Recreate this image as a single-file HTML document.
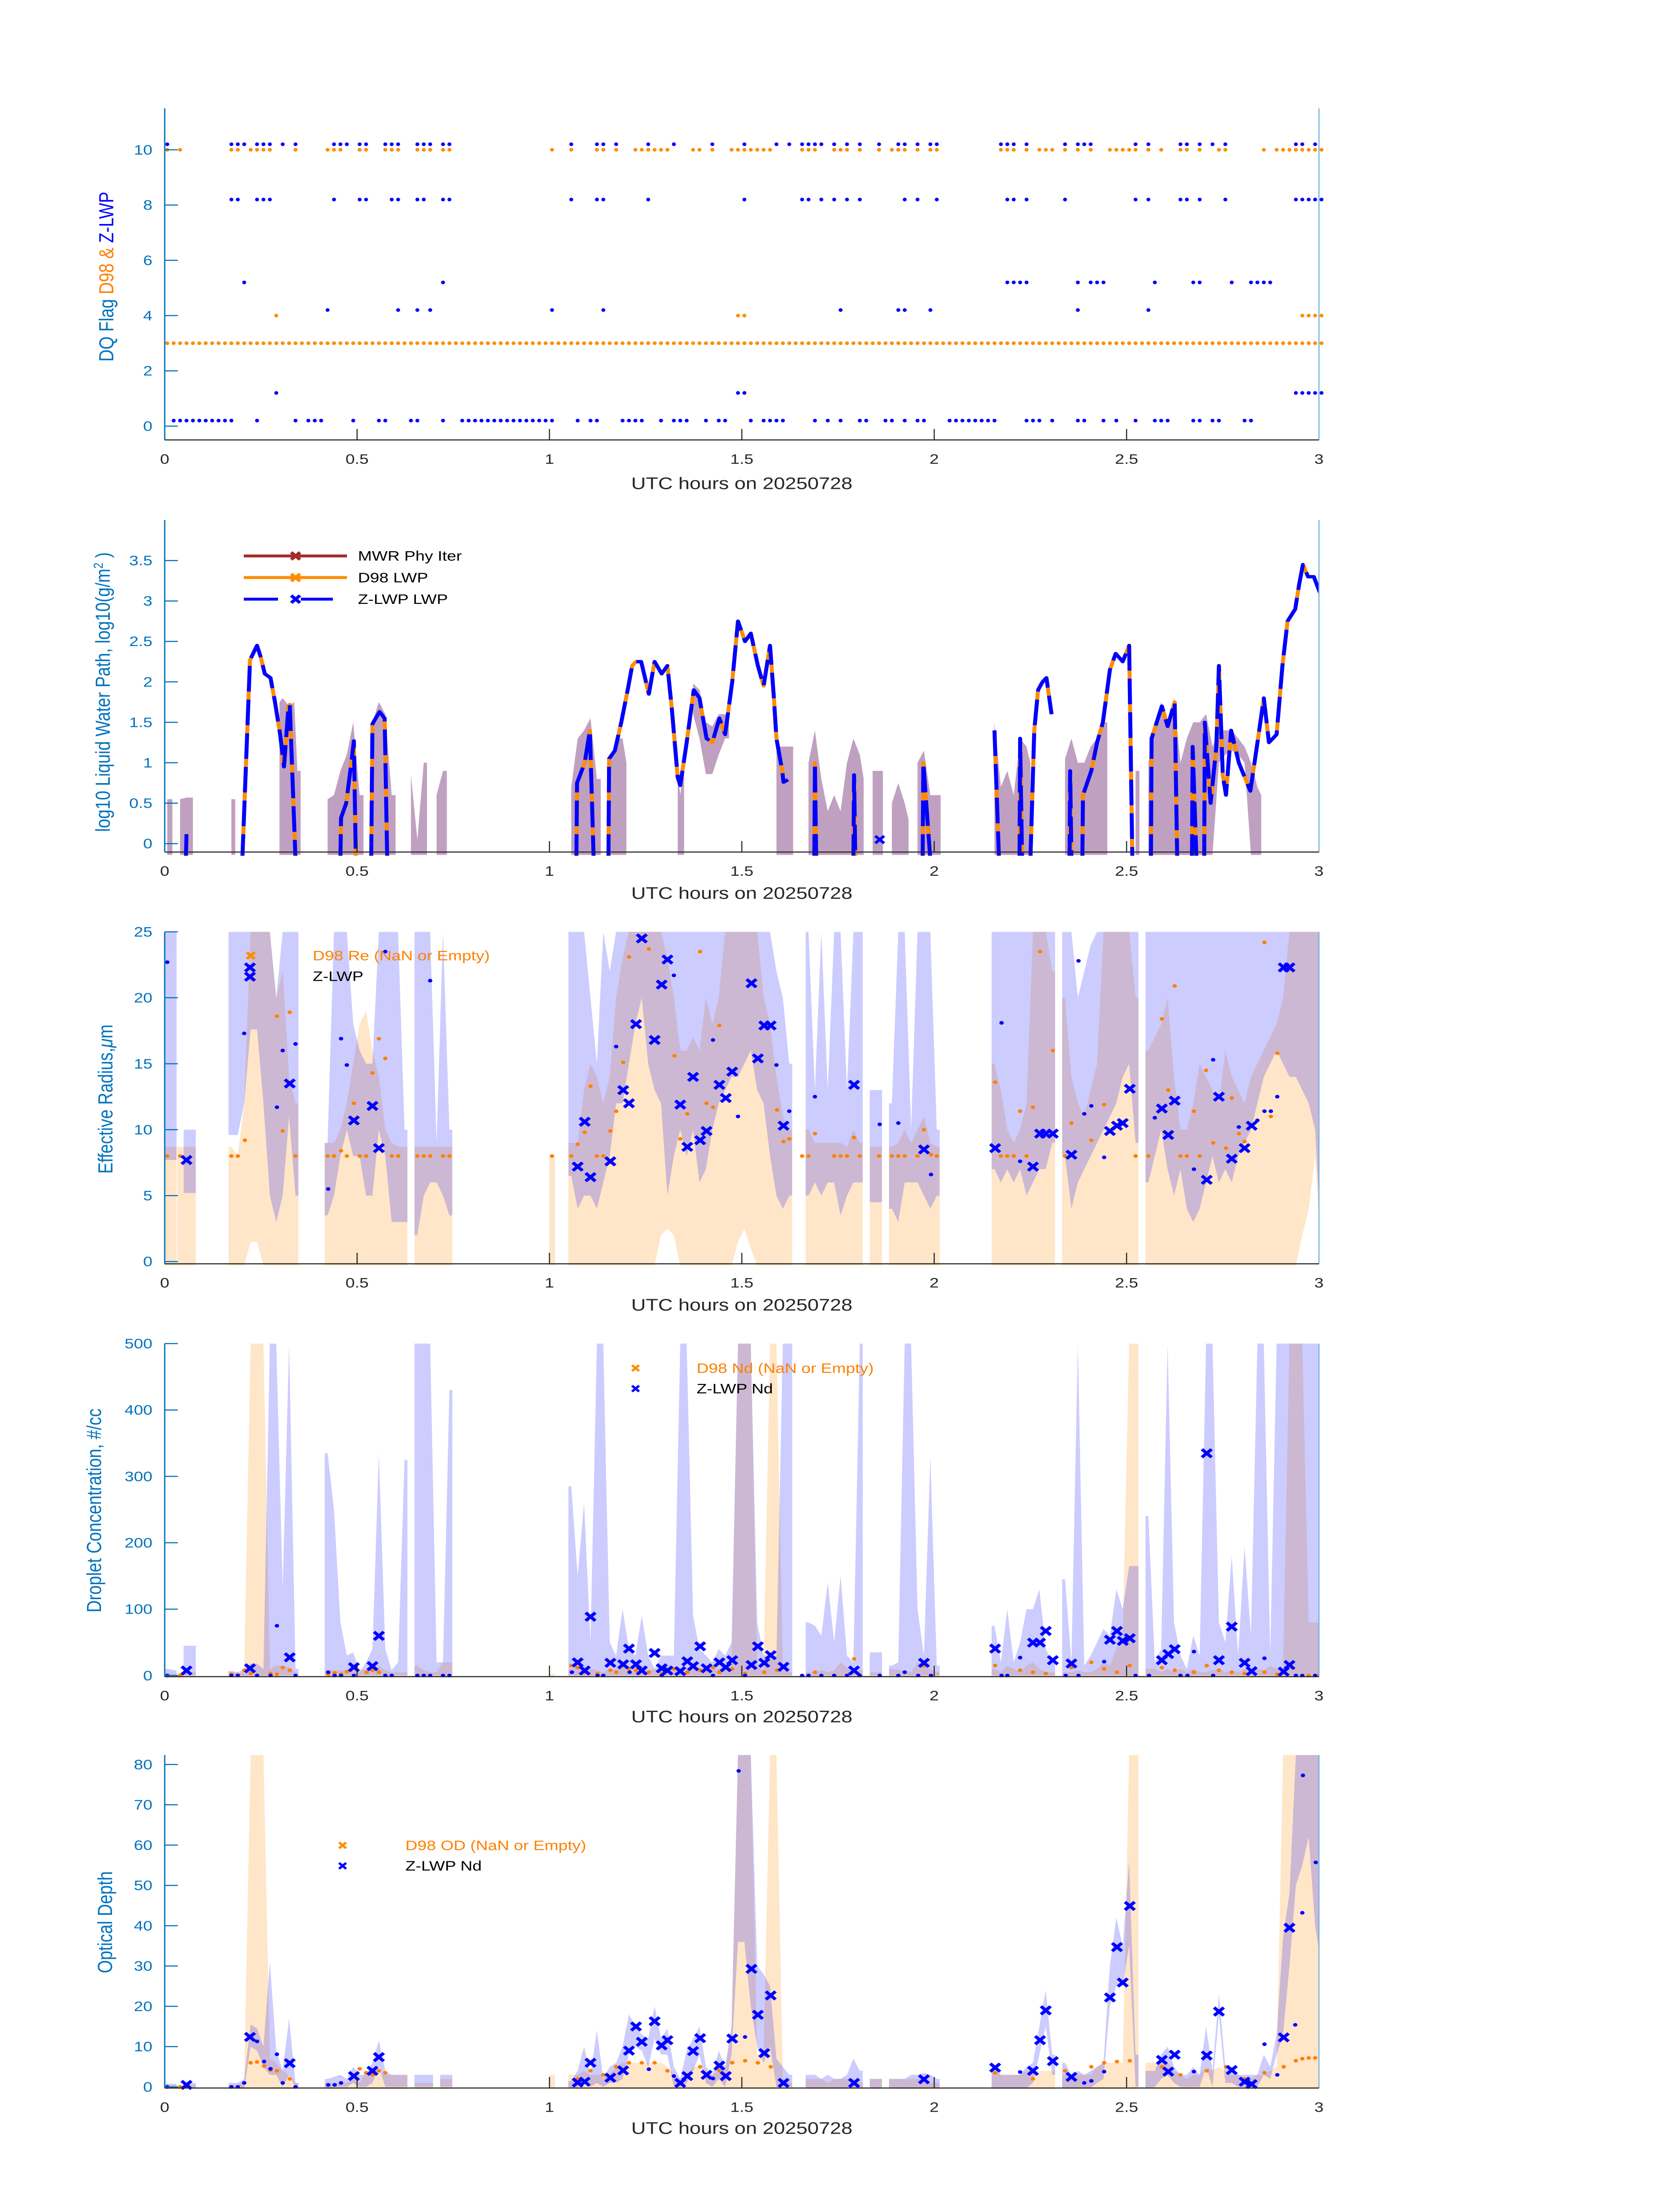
<!DOCTYPE html>
<html><head><meta charset="utf-8"><title>DQ and Cloud Retrievals</title>
<style>html,body{margin:0;padding:0;background:#fff;width:100%;height:100%;overflow:hidden}svg{display:block;width:100vw;height:100vh;font-family:"Liberation Sans","DejaVu Sans",sans-serif}</style>
</head><body>
<svg id="chart" xmlns="http://www.w3.org/2000/svg" viewBox="0 0 3825 6000" preserveAspectRatio="none">
<rect x="0" y="0" width="3825" height="6000" fill="#fff"/>
<g font-size="46">
<text transform="translate(258,756) rotate(-90)" text-anchor="middle"><tspan fill="#0072bd">DQ Flag  </tspan><tspan fill="#ff8000">D98 &amp; </tspan><tspan fill="#0000ff"> Z-LWP</tspan></text>
<text transform="translate(250,1891) rotate(-90)" text-anchor="middle" fill="#0072bd">log10 Liquid Water Path, log10(g/m<tspan font-size="30" dy="-16">2</tspan><tspan dy="16"> )</tspan></text>
<text transform="translate(256,3003) rotate(-90)" text-anchor="middle" fill="#0072bd">Effective Radius,<tspan font-style="italic">μ</tspan>m</text>
<text transform="translate(230,4127) rotate(-90)" text-anchor="middle" fill="#0072bd">Droplet Concentration, #/cc</text>
<text transform="translate(255,5252) rotate(-90)" text-anchor="middle" fill="#0072bd">Optical Depth</text>
</g>
<g font-size="46" fill="#262626" text-anchor="middle">
<text x="1689" y="1336">UTC hours on 20250728</text>
<text x="1689" y="2456">UTC hours on 20250728</text>
<text x="1689" y="3581">UTC hours on 20250728</text>
<text x="1689" y="4706">UTC hours on 20250728</text>
<text x="1689" y="5830">UTC hours on 20250728</text>
</g>
<g id="layer"></g>
<g font-size="38" fill="#000">
<line x1="555" y1="1519" x2="790" y2="1519" stroke="#a52a2a" stroke-width="8"/>
<path d="M663,1509 l20,20 M683,1509 l-20,20" stroke="#a52a2a" stroke-width="8"/>
<text x="815" y="1532">MWR Phy Iter</text>
<line x1="555" y1="1578" x2="790" y2="1578" stroke="#ff8c00" stroke-width="8"/>
<path d="M663,1568 l20,20 M683,1568 l-20,20" stroke="#ff8c00" stroke-width="8"/>
<text x="815" y="1591">D98 LWP</text>
<line x1="555" y1="1637" x2="758" y2="1637" stroke="#0000ff" stroke-width="8" stroke-dasharray="78 52"/>
<path d="M663,1627 l20,20 M683,1627 l-20,20" stroke="#0000ff" stroke-width="8"/>
<text x="815" y="1650">Z-LWP LWP</text>
</g>
<g font-size="38">
<path d="M562,2602 l18,18 M580,2602 l-18,18" stroke="#ff8c00" stroke-width="7"/>
<text x="712" y="2624" fill="#ff8000">D98 Re (NaN or Empty)</text>
<text x="712" y="2680" fill="#000">Z-LWP</text>
</g>
<g font-size="38">
<path d="M1439,3730 l16,16 M1455,3730 l-16,16" stroke="#ff8c00" stroke-width="6"/>
<text x="1586" y="3751" fill="#ff8000">D98 Nd (NaN or Empty)</text>
<path d="M1439,3786 l16,16 M1455,3786 l-16,16" stroke="#0000ff" stroke-width="6"/>
<text x="1586" y="3807" fill="#000">Z-LWP Nd</text>
</g>
<g font-size="38">
<path d="M772,5034 l16,16 M788,5034 l-16,16" stroke="#ff8c00" stroke-width="6"/>
<text x="923" y="5055" fill="#ff8000">D98 OD (NaN or Empty)</text>
<path d="M772,5090 l16,16 M788,5090 l-16,16" stroke="#0000ff" stroke-width="6"/>
<text x="923" y="5111" fill="#000">Z-LWP Nd</text>
</g>
</svg>
<script>
// ---------- Panel 1: DQ flags (minutes after 00 UTC) ----------
const d98Flag3 = [0,1,2,3,4,5,6,7,8,9,10,11,12,13,14,15,16,17,18,19,20,21,22,23,24,25,26,27,28,29,30,31,32,33,34,35,36,37,38,39,40,41,42,43,44,45,46,47,48,49,50,51,52,53,54,55,56,57,58,59,60,61,62,63,64,65,66,67,68,69,70,71,72,73,74,75,76,77,78,79,80,81,82,83,84,85,86,87,88,89,90,91,92,93,94,95,96,97,98,99,100,101,102,103,104,105,106,107,108,109,110,111,112,113,114,115,116,117,118,119,120,121,122,123,124,125,126,127,128,129,130,131,132,133,134,135,136,137,138,139,140,141,142,143,144,145,146,147,148,149,150,151,152,153,154,155,156,157,158,159,160,161,162,163,164,165,166,167,168,169,170,171,172,173,174,175,176,177,178,179,180];
const d98Flag10 = [0,2,10,11,13,14,15,16,20,25,26,27,30,31,34,35,36,39,40,41,43,44,60,63,67,68,70,73,74,75,76,77,78,82,83,85,88,89,90,91,92,93,94,99,100,101,104,105,106,108,111,113,114,115,117,119,120,130,131,132,134,136,137,138,140,142,144,147,148,149,150,151,153,155,158,159,161,164,165,171,173,174,175,176,177,178,179,180];
const d98Flag4 = [17,89,90,177,178,179,180];
const zlwpFlag10 = [0,10,11,12,14,15,16,18,20,26,27,28,30,31,34,35,36,39,40,41,43,44,63,67,68,70,75,79,85,90,95,97,99,100,101,102,104,106,108,111,114,115,117,119,120,130,131,132,134,140,142,143,144,151,153,158,159,161,163,165,176,177,179];
const zlwpFlag8 = [10,11,14,15,16,26,30,31,35,36,39,40,43,44,63,67,68,75,90,99,100,102,104,106,108,115,117,120,131,132,134,140,151,153,158,159,161,165,176,177,178,179,180];
const zlwpFlag5 = [12,43,131,132,133,134,142,144,145,146,154,160,161,166,169,170,171,172];
const zlwpFlag4 = [25,36,39,41,60,68,105,114,115,119,142,153];
const zlwpFlag1 = [17,89,90,176,177,178,179,180];
const zlwpFlag0 = [1,2,3,4,5,6,7,8,9,10,14,20,22,23,24,29,33,34,38,39,43,46,47,48,49,50,51,52,53,54,55,56,57,58,59,60,64,66,67,71,72,73,74,77,79,80,81,84,86,87,91,93,94,95,96,101,103,105,108,109,112,113,115,117,118,122,123,124,125,126,127,128,129,134,135,136,138,142,143,146,148,151,154,155,156,160,161,163,164,168,169];

// ---------- Panel 2: LWP ----------
const lwpT = [3.3,3.4,null, 12.1,13.3,14.4,15,15.6,16.5,17.2,18,18.6,19.3,19.5,20.4,null, 27.4,27.5,28.3,29.1,29.5,29.8,null, 32.2,32.4,33.5,34.3,34.7,null, 64.2,64.3,65.5,66.3,66.9,null, 69.2,69.3,70.2,71.2,72.2,72.9,73.5,74.3,75.5,76.4,77.5,78.4,79.1,80,80.4,81.4,82.5,83.4,84.5,85.4,86.5,87.4,88.5,89.4,90.5,91.4,92.5,93.4,94.4,95,95.4,96.3,96.5,97.2,null, 101.3,101.4,101.6,null, 107.4,107.5,107.7,null, 118.2,118.3,119.4,null, 129.4,130.1,null, 133.3,133.4,133.7,null, 135,135.6,136.2,136.9,137.5,138.3,null, 141.1,141.2,141.4,null, 143.1,143.2,144.5,145.4,146.3,147.4,148.3,149.4,150.4,150.9,null, 153.8,153.9,155.5,156.4,157.5,157.9,null, 160.2,160.3,160.9,null, 162.1,162.2,163.1,164,164.4,165,165.5,166.3,167.5,169.3,170.5,171.4,172.2,173.4,174.3,175.1,176.3,176.9,177.5,178.3,179.2,180.4];
const lwpV = [-0.2,0.12,null, -0.2,2.27,2.45,2.3,2.1,2.05,1.75,1.35,0.95,1.7,1.72,-0.2,null, -0.2,0.32,0.5,1.0,1.27,-0.2,null, -0.2,1.48,1.63,1.55,-0.2,null, -0.2,0.75,1.0,1.4,-0.2,null, -0.2,1.05,1.15,1.5,1.9,2.2,2.25,2.25,1.85,2.25,2.1,2.2,1.65,0.82,0.72,1.25,1.9,1.8,1.3,1.25,1.55,1.35,2.0,2.75,2.5,2.6,2.2,1.95,2.45,1.8,1.3,0.9,0.76,0.79,null, -0.2,1.0,-0.2,null, -0.2,0.85,-0.2,null, -0.2,1.0,-0.2,null, 1.4,-0.2,null, -0.2,1.3,-0.2,null, -0.2,1.4,1.9,2.0,2.05,1.6,null, -0.2,0.9,-0.2,null, -0.2,0.6,0.9,1.25,1.5,2.15,2.35,2.25,2.45,-0.2,null, -0.2,1.3,1.7,1.45,1.75,-0.2,null, -0.2,1.2,-0.2,null, -0.2,1.5,0.5,1.2,2.2,0.85,0.6,1.4,1.0,0.65,1.3,1.8,1.25,1.35,2.2,2.75,2.9,3.2,3.45,3.3,3.3,3.05];
const lwpMarkT = [111.5];
const lwpMarkV = [0.05];
const lwpBandT = [0,0.8,null, 2,3,4,null, 10,10.6,null, 17.5,18,19,19.8,20.3,20.8,null, 25,26,27,28,29,30,30.6,null, 32,33,34,35,35.6,null, 38,39,40,40.5,null, 42,43,43.6,null, 63,64,65,66,67,67.6,null, 69,70,71,71.6,null, 79.6,80,80.6,null, 82,83,84,85,86,87,87.6,null, 95,96,97,97.6,null, 100,101,102,103,104,105,106,107,108,108.6,null, 110,111,111.6,null, 113,114,115,115.6,null, 117,118,119,120,120.6,null, 129,130,131,132,133,134,134.6,null, 140,141,142,143,144,145,146,146.6,null, 151,151.6,null, 153,154,155,156,157,158,159,160,161,162,163,164,165,166,167,168,169,170,170.6];
const lwpBandHi = [0.55,0.55,null, 0.55,0.57,0.57,null, 0.55,0.55,null, 1.75,1.8,1.7,1.75,0.9,0.9,null, 0.55,0.6,0.9,1.1,1.5,0.6,0.6,null, 1.5,1.75,1.6,0.6,0.6,null, 0.85,0.05,1.0,1.0,null, 0.6,0.9,0.9,null, 0.7,1.3,1.4,1.55,0.8,0.8,null, 1.0,1.3,1.3,1.0,null, 0.9,0.6,1.0,null, 1.98,1.9,1.5,1.45,1.6,1.6,1.5,null, 1.2,1.2,1.2,1.2,null, 1.0,1.4,0.8,0.4,0.6,0.4,1.0,1.3,1.1,0.8,null, 0.9,0.9,0.9,null, 0.5,0.75,0.5,0.3,null, 1.0,1.15,0.6,0.6,0.6,null, 1.5,0.7,0.9,0.6,1.3,1.2,1.0,null, 1.05,1.3,1.0,1.0,1.2,1.3,1.5,1.5,null, 0.9,0.9,null, 1.0,1.45,1.75,1.5,1.8,1.0,1.3,1.5,1.5,1.6,1.2,1.4,1.4,1.4,1.3,1.2,1.0,0.7,0.6];
const lwpBandLo = [-0.14,-0.14,null, -0.14,-0.14,-0.14,null, -0.14,-0.14,null, -0.14,-0.14,-0.14,-0.14,-0.14,-0.14,null, -0.14,-0.14,-0.14,-0.14,-0.14,-0.14,-0.14,null, -0.14,-0.14,-0.14,-0.14,-0.14,null, -0.14,-0.14,-0.14,-0.14,null, -0.14,-0.14,-0.14,null, -0.14,-0.14,-0.14,-0.14,-0.14,-0.14,null, -0.14,-0.14,-0.14,-0.14,null, -0.14,-0.14,-0.14,null, 1.6,1.3,0.86,0.86,1.1,1.3,1.3,null, -0.14,-0.14,-0.14,-0.14,null, -0.14,-0.14,-0.14,-0.14,-0.14,-0.14,-0.14,-0.14,-0.14,-0.14,null, -0.14,-0.14,-0.14,null, -0.14,-0.14,-0.14,-0.14,null, -0.14,-0.14,-0.14,-0.14,-0.14,null, -0.14,-0.14,-0.14,-0.14,-0.14,-0.14,-0.14,null, -0.14,-0.14,-0.14,-0.14,-0.14,-0.14,-0.14,-0.14,null, -0.14,-0.14,null, -0.14,-0.14,-0.14,-0.14,-0.14,-0.14,-0.14,-0.14,-0.14,-0.14,-0.14,1.0,1.1,1.15,1.1,1.0,-0.14,-0.14,-0.14];

// ---------- Panels 3-5 shared band times (minutes) ----------
const bandT = [0,1,null, 2,3,4,null, 10,11,12,13,14,15,16,17,18,19,20,null, 25,26,27,28,29,30,31,32,33,34,35,36,37,null, 39,40,41,42,43,44,null, 60,null, 63,64,65,66,67,68,69,70,71,72,73,74,75,76,77,78,79,80,81,82,83,84,85,86,87,88,89,90,91,92,93,94,95,96,97,null, 100,101,102,103,104,105,106,107,108,null, 110,111,null, 113,114,115,116,117,118,119,120,null, 129,130,131,132,133,134,135,136,137,138,null, 140,141,142,143,144,145,146,147,148,149,150,151,null, 153,154,155,156,157,158,159,160,161,162,163,164,165,166,167,168,169,170,171,172,173,174,175,176,177,178,179,180];

// Panel 3: effective radius
const reBlueHi = [25,25,null, null,10,10,null, 25,25,25,25,25,25,25,20,25,25,25,null, 9,25,25,25,18,16,15,15,25,25,25,25,10,null, 25,25,25,9,25,10,null, null,null, 25,25,25,20,15,25,22,25,25,25,25,25,25,25,25,25,25,25,25,25,25,25,25,25,25,25,25,25,25,25,25,25,22,20,15,null, 25,13,25,13,25,25,13,25,25,null, 13,13,null, 12,25,25,10,25,25,25,10,null, 25,25,25,25,25,25,25,25,25,25,null, 25,25,20,22,24,25,25,25,25,25,25,25,null, 25,25,25,25,25,25,25,25,25,25,25,25,25,25,25,25,25,25,25,25,25,25,25,25,25,25,25,25];
const reBlueLo = [7.7,7.7,null, null,5.2,5.2,null, 9.6,9.6,12,17.6,17.6,12,5,3,5,11,5,null, 3.5,5,8,10,8,8,5,5,10,8,3,3,3,null, 2,5,6,6,5,3.5,null, null,null, 6.5,4,5,5,4,6,8,12,12,15,18,20,15,13,12,5,8,10,8,10,6,7,10,12,13,14,14,15,16,13,12,8,5,4,5,null, 5,6,5,6,6,3.5,5,6,6,null, 4.5,4.5,null, 4,3,6,6,6,5,4,5,null, 7,6,7,6,7,5,6,7,7,9,null, 8,4,6,7,8,9,10,11,12,14,15,9,null, 6,8,10,7,5,7,4,3,4,6,8,6,7,6,8,9,10,12,14,15,16,15,14,14,13,12,10,1];
const reOrHi = [8.7,8.7,null, 8.7,8.7,8.7,null, 8.7,8,12,25,25,25,25,20,22,14,12,null, 9,9,10,12,15,18,19,16,14,10,9,8.7,8.7,null, 8.7,8.7,8.7,8.7,8.7,8.7,null, 8,null, 9,9,13,15,14,12,14,20,23,25,25,25,25,25,25,23,20,16,16,17,16,20,18,20,25,25,25,25,25,25,20,18,14,11,10,null, 10,9,9,9,9,9,8.7,10,9,null, 8.7,8.7,null, 8.7,9,10,9,10,11,9,8.7,null, 15,13,10,9,10,12,25,25,25,22,null, 20,14,12,11,13,15,25,25,25,25,25,20,null, 16,17,18,20,14,10,10,12,15,14,13,12,16,14,13,12,14,15,16,17,18,20,25,25,25,25,25,25];
const reOrLo = [-0.3,-0.3,null, -0.3,-0.3,-0.3,null, -0.3,-0.3,-0.3,1.5,1.5,-0.3,-0.3,-0.3,-0.3,-0.3,-0.3,null, -0.3,-0.3,-0.3,-0.3,-0.3,-0.3,-0.3,-0.3,-0.3,-0.3,-0.3,-0.3,-0.3,null, -0.3,-0.3,-0.3,-0.3,-0.3,-0.3,null, -0.3,null, -0.3,-0.3,-0.3,-0.3,-0.3,-0.3,-0.3,-0.3,-0.3,-0.3,-0.3,-0.3,-0.3,-0.3,2,2.5,2,-0.3,-0.3,-0.3,-0.3,-0.3,-0.3,-0.3,-0.3,-0.3,1.5,2.5,1,-0.3,-0.3,-0.3,-0.3,-0.3,-0.3,null, -0.3,-0.3,-0.3,-0.3,-0.3,-0.3,-0.3,-0.3,-0.3,null, -0.3,-0.3,null, -0.3,-0.3,-0.3,-0.3,-0.3,-0.3,-0.3,-0.3,null, -0.3,-0.3,-0.3,-0.3,-0.3,-0.3,-0.3,-0.3,-0.3,-0.3,null, -0.3,-0.3,-0.3,-0.3,-0.3,-0.3,-0.3,-0.3,-0.3,-0.3,-0.3,-0.3,null, -0.3,-0.3,-0.3,-0.3,-0.3,-0.3,-0.3,-0.3,-0.3,-0.3,-0.3,-0.3,-0.3,-0.3,-0.3,-0.3,-0.3,-0.3,-0.3,-0.3,-0.3,-0.3,-0.3,-0.3,2,4,8,-0.3];
const reOrDotT = [0.4,2.4,10.4,11.4,12.5,17.5,18.4,19.5,20.4,25.4,26.4,27.5,28.4,29.5,30.4,31.4,32.4,33.4,34.4,35.4,36.4,39.4,40.4,41.4,43.4,44.4,60.4,63.4,64.4,65.5,66.4,67.4,68.4,69.5,70.4,71.5,72.4,75.5,79.5,80.4,81.5,83.5,84.5,85.5,86.5,95.5,96.5,97.4,99.4,100.4,101.4,104.4,105.4,106.4,107.5,108.4,111.4,113.4,114.4,115.4,117.4,118.4,119.5,120.4,129.5,130.4,131.4,132.4,133.4,134.4,135.4,136.5,138.5,140.4,141.4,144.5,146.5,151.4,153.4,155.5,156.5,157.5,158.4,159.4,160.5,161.4,162.4,163.5,165.5,166.4,167.5,168.4,171.5,172.5,173.5];
const reOrDotV = [8,8,8,8,9.2,18.6,9.9,18.9,8,8,8,8.4,8,12,8,8,14.3,16.9,15.4,8,8,8,8,8,8,8,8,8,8.9,9.8,13.3,8,8,9.9,11.4,15.1,23.1,23.7,15.6,9.3,11.2,23.5,12,11.7,17.9,11.5,9.1,9.3,8,8,9.7,8,8,8,9.4,8,8,8,8,8,8,10,8.1,8,13.6,8,8,8,11.4,8,11.7,23.5,16,8,10.5,9.2,11.9,8,8,18.4,13,20.9,8,8,11.4,8,14.5,9,8.6,12.4,9.7,9.1,24.2,11,15.8];
const reBlueDotT = [0.4,12.4,17.5,18.4,20.4,25.5,27.5,28.4,34.4,41.4,70.4,79.4,85.5,89.4,95.4,97.4,101.4,111.5,114.4,119.5,130.5,133.4,142.5,143.4,144.5,146.5,154.4,160.5,163.5,167.5,170.4,171.5,172.5,173.5];
const reBlueDotV = [22.7,17.3,11.7,16.0,16.5,5.5,16.9,14.9,23.5,21.3,16.3,21.7,16.8,11.0,14.9,11.4,12.5,10.4,10.5,6.6,18.1,7.6,22.8,11.2,11.8,7.9,10.9,7.0,15.3,10.2,10.7,11.4,11.4,12.5];
const reMarkT = [3.4,13.3,13.3,19.5,29.5,32.4,33.4,64.4,65.5,66.4,69.5,71.5,72.4,73.5,74.4,76.4,77.5,78.4,80.4,81.5,82.4,83.5,84.5,86.5,87.5,88.5,91.5,92.5,93.5,94.5,96.5,107.5,118.4,129.5,135.4,136.5,137.4,138.5,141.4,147.4,148.5,149.4,150.5,155.5,156.5,157.5,162.5,164.4,166.4,168.4,169.5,174.5,175.4];
const reMarkV = [7.7,22.3,21.6,13.5,10.7,11.8,8.6,7.2,10.6,6.4,7.6,13.0,12.0,18.0,24.5,16.8,21.0,22.9,11.9,8.7,14.0,9.2,9.9,13.4,12.4,14.4,21.1,15.4,17.9,17.9,10.3,13.4,8.5,8.6,7.2,9.7,9.7,9.7,8.1,9.9,10.3,10.5,13.1,11.6,9.6,12.2,6.2,12.5,7.8,8.6,10.3,22.3,22.3];

// Panel 4: droplet concentration
const ndBlueHi = [10,8,null, null,45,45,null, 7,5,10,18,18,10,500,500,130,500,10,null, 335,250,80,30,35,5,20,40,335,40,8,20,325,null, 500,500,500,20,20,430,null, null,null, 285,150,260,50,500,500,50,30,100,40,30,90,30,10,30,30,30,500,500,90,40,30,20,40,30,50,500,500,500,80,30,30,30,500,500,null, 80,75,60,140,50,150,30,20,500,null, 35,35,null, 15,20,500,500,100,30,330,15,null, 75,20,100,20,50,100,100,130,40,20,null, 145,20,500,15,30,50,70,60,130,100,165,165,null, 240,20,40,500,80,30,10,60,30,500,500,80,50,180,30,195,60,500,500,30,500,500,500,500,500,500,500,500];
const ndBlueLo = [0,0,null, null,0,0,null, 0,0,0,0,0,0,0,0,0,0,0,null, 0,0,0,0,0,0,0,0,0,0,0,0,0,null, 0,0,0,0,0,0,null, null,null, 0,0,0,0,0,0,0,0,0,0,0,0,0,0,0,0,0,0,0,0,0,0,0,0,0,0,0,0,0,0,0,0,0,0,0,null, 0,0,0,0,0,0,0,0,0,null, 0,0,null, 0,0,0,0,0,0,0,0,null, 0,0,0,0,0,0,0,0,0,0,null, 0,0,0,0,0,0,0,0,0,0,0,0,null, 0,0,0,0,0,0,0,0,0,0,0,0,0,0,0,0,0,0,0,0,0,0,0,0,0,0,0,0];
const ndOrHi = [3,3,null, 5,5,5,null, 5,3,5,500,500,500,10,15,15,12,5,null, 8,8,8,8,8,10,8,8,15,8,5,5,5,null, 15,8,5,5,20,20,null, 3,null, 10,20,15,10,8,5,10,10,15,5,10,15,8,10,8,15,10,5,10,20,10,10,10,10,15,20,500,500,500,15,8,500,500,8,5,null, 5,5,8,5,8,20,12,5,8,null, 5,5,null, 10,8,8,5,20,15,10,5,null, 10,5,15,10,5,15,20,10,5,5,null, 5,5,8,5,5,10,20,15,40,60,500,500,null, 10,10,5,10,5,10,5,10,5,5,8,10,5,8,5,10,5,10,8,15,10,8,500,500,500,80,80,80];
const ndOrLo = [-1.6,-1.6,null, -1.6,-1.6,-1.6,null, -1.6,-1.6,-1.6,-1.6,-1.6,-1.6,-1.6,-1.6,-1.6,-1.6,-1.6,null, -1.6,-1.6,-1.6,-1.6,-1.6,-1.6,-1.6,-1.6,-1.6,-1.6,-1.6,-1.6,-1.6,null, -1.6,-1.6,-1.6,-1.6,-1.6,-1.6,null, -1.6,null, -1.6,-1.6,-1.6,-1.6,-1.6,-1.6,-1.6,-1.6,-1.6,-1.6,-1.6,-1.6,-1.6,-1.6,-1.6,-1.6,-1.6,-1.6,-1.6,-1.6,-1.6,-1.6,-1.6,-1.6,-1.6,-1.6,-1.6,-1.6,-1.6,-1.6,-1.6,-1.6,-1.6,-1.6,-1.6,null, -1.6,-1.6,-1.6,-1.6,-1.6,-1.6,-1.6,-1.6,-1.6,null, -1.6,-1.6,null, -1.6,-1.6,-1.6,-1.6,-1.6,-1.6,-1.6,-1.6,null, -1.6,-1.6,-1.6,-1.6,-1.6,-1.6,-1.6,-1.6,-1.6,-1.6,null, -1.6,-1.6,-1.6,-1.6,-1.6,-1.6,-1.6,-1.6,-1.6,-1.6,-1.6,-1.6,null, -1.6,-1.6,-1.6,-1.6,-1.6,-1.6,-1.6,-1.6,-1.6,-1.6,-1.6,-1.6,-1.6,-1.6,-1.6,-1.6,-1.6,-1.6,-1.6,-1.6,-1.6,-1.6,-1.6,-1.6,-1.6,-1.6,-1.6,-1.6];
const ndOrDotT = [0.4,2.4,10.4,11.4,12.4,13.4,16.5,17.5,18.4,19.5,25.5,26.5,27.5,28.4,29.5,31.5,32.4,33.4,63.4,64.4,65.5,67.5,69.5,70.4,71.5,72.4,73.5,75.5,77.5,79.4,81.5,83.5,85.5,86.5,88.5,90.5,93.5,95.5,101.4,107.5,118.4,129.5,133.4,135.4,137.4,141.4,144.5,146.5,148.5,150.5,155.5,157.5,160.5,162.5,164.4,166.4,168.4,171.5,173.5,176.4,178.4,180];
const ndOrDotV = [0,0,2,1,8,3,3,2,12,8,2,4,2,6,12,5,8,5,15,12,5,3,8,5,15,10,8,5,3,10,5,8,12,5,10,3,5,8,5,25,15,15,8,5,3,12,20,10,5,15,12,8,5,15,8,5,3,5,2,0,0,0];
const ndBlueDotT = [0.4,10.4,11.4,14.4,16.5,17.5,20.4,25.5,26.5,27.5,29.5,34.4,35.4,39.4,40.4,41.4,43.4,44.4,63.5,67.5,68.4,72.5,77.5,85.5,90.5,99.4,100.4,102.4,104.4,106.4,108.4,111.5,114.4,115.4,117.5,119.5,130.5,131.4,133.4,140.5,142.5,146.5,151.4,153.5,158.4,159.5,160.5,163.5,171.5,176.4,177.4,179.4,180.4];
const ndBlueDotV = [0,0,0,0,0,75,0,5,0,0,0,0,0,0,0,0,0,0,5,0,0,5,0,0,0,0,0,0,0,0,0,0,0,5,0,0,0,0,27,0,0,21,0,0,0,0,36,0,26,0,0,0,51];
const ndMarkT = [3.4,13.3,19.5,29.5,32.4,33.4,64.4,65.5,66.4,69.5,71.5,72.4,73.5,74.4,76.4,77.5,78.4,80.4,81.5,82.4,83.5,84.5,86.5,87.5,88.5,91.5,92.5,93.5,94.5,96.5,107.5,118.4,129.5,135.4,136.5,137.4,138.5,141.4,147.4,148.5,149.4,150.5,155.5,156.5,157.5,162.5,164.4,166.4,168.4,169.5,174.5,175.4];
const ndMarkV = [7.6,10.9,27.4,12.6,14.2,59.8,19.8,7.6,88.6,19.2,16.9,40.6,16.9,7.6,34.0,10.9,7.6,6.6,21.5,14.2,44,10.9,19.8,12.6,23.1,15.9,44,19.2,30.7,13.2,7.6,19.2,40.6,49.6,49.6,67.1,23.1,18.2,53.9,67.1,52.2,56.2,23.1,32.4,39.7,334.8,23.1,73.7,19.2,6.6,5.9,15.9];

// Panel 5: optical depth
const odBlueHi = [0.8,0.8,null, null,1,1,null, 1,1,2,15.5,14.5,10,31,9,4,17,1,null, 2,2.5,3,2,5,3,3,6,11.5,4,3,3,3,null, 3,3,3,null,3,3,null, null,null, 1.5,4,10,3,14,2,5,6,10,18,15,13,12,20,12,14.5,5,2,9,12,15,5,3,9,5,15,82.4,82.4,82.4,30,28,25,7,5,3,null, 3,3,2,3,2,2,3,7,4,null, 2,2,null, 2,2,2,3,3,3.5,3,2,null, 5,3,3,3,3,5,6,15,24,8,null, 6,3,4,3,4,5,6,30,42,35,56,8,null, 4,4,8,10,5,3,3,5,3,15,4,23,5,5,3,3,3,3,8,5,13,37,48,82.4,82.4,82.4,82.4,82.4];
const odBlueLo = [-0.3,-0.3,null, null,-0.3,-0.3,null, -0.3,-0.3,-0.3,10,9,5,3,3,0,3,-0.3,null, -0.3,0,0,0,1,0,0,1,5,0,0,0,0,null, 0,0,0,null,0,0,null, null,null, -0.3,0,1,0,1,0,1,1,2,8,10,9,5,12,8,8,0,0,1,4,8,1,0,2,0,8,36,36,20,10,6,10,0,0,0,null, -0.3,-0.3,-0.3,-0.3,-0.3,-0.3,-0.3,-0.3,-0.3,null, -0.3,-0.3,null, -0.3,-0.3,-0.3,-0.3,-0.3,-0.3,-0.3,-0.3,null, -0.3,-0.3,-0.3,-0.3,-0.3,-0.3,1,8,15,3,null, -0.3,-0.3,-0.3,-0.3,-0.3,1,2,20,25,25,35,0,null, -0.3,0,2,3,1,0,0,0,0,5,0,18,1,1,0,0,0,0,3,2,8,13,30,50,55,62,40,30];
const odOrHi = [0.5,0.5,null, 0.5,0.5,0.5,null, 0.5,0.5,1.5,82.4,82.4,82.4,7,6,4,3,1,null, 1,1,1,1,2,1,4,4,4,3,3,3,3,null, 1,1,1,null,2,2,null, 3,null, 3,3,4,3,3,3,3,5,6,6,6,6,6,6,6,5,3,2,3,5,5,4,3,4,4,15,82.4,82.4,82.4,8,8,82.4,82.4,2,1,null, 2,2,2,1,2,2,2,2,1,null, 2,2,null, 2,2,2,2,2,2,1,1,null, 4,3,3,3,3,4,4,4,4,4,null, 3,3,3,3,3,5,6,6,6,6,82.4,82.4,null, 6,6,6,6,4,3,2,3,3,5,4,5,4,3,3,2,2,3,3,4,5,82.4,82.4,82.4,82.4,82.4,82.4,82.4];
const odOrLo = [-0.5,-0.5,null, -0.5,-0.5,-0.5,null, -0.5,-0.5,-0.5,-0.5,-0.5,-0.5,-0.5,-0.5,-0.5,-0.5,-0.5,null, -0.5,-0.5,-0.5,-0.5,-0.5,-0.5,-0.5,-0.5,-0.5,-0.5,-0.5,-0.5,-0.5,null, -0.5,-0.5,-0.5,null,-0.5,-0.5,null, -0.5,null, -0.5,-0.5,-0.5,-0.5,-0.5,-0.5,-0.5,-0.5,-0.5,-0.5,-0.5,-0.5,-0.5,-0.5,-0.5,-0.5,-0.5,-0.5,-0.5,-0.5,-0.5,-0.5,-0.5,-0.5,-0.5,-0.5,-0.5,-0.5,-0.5,-0.5,-0.5,-0.5,-0.5,-0.5,-0.5,null, -0.5,-0.5,-0.5,-0.5,-0.5,-0.5,-0.5,-0.5,-0.5,null, -0.5,-0.5,null, -0.5,-0.5,-0.5,-0.5,-0.5,-0.5,-0.5,-0.5,null, -0.5,-0.5,-0.5,-0.5,-0.5,-0.5,-0.5,-0.5,-0.5,-0.5,null, -0.5,-0.5,-0.5,-0.5,-0.5,-0.5,-0.5,-0.5,-0.5,-0.5,-0.5,-0.5,null, -0.5,-0.5,-0.5,-0.5,-0.5,-0.5,-0.5,-0.5,-0.5,-0.5,-0.5,-0.5,-0.5,-0.5,-0.5,-0.5,-0.5,-0.5,-0.5,-0.5,-0.5,-0.5,-0.5,-0.5,-0.5,-0.5,-0.5,-0.5];
const odOrDotT = [2.4,12.4,13.4,14.4,15.5,16.5,17.5,19.5,30.4,31.4,32.4,33.4,34.4,64.4,66.4,68.4,70.4,72.4,74.4,76.4,78.4,81.5,83.5,86.5,88.5,90.5,92.5,94.5,129.5,135.4,140.4,144.5,146.5,148.5,150.5,155.5,158.4,162.5,165.5,168.4,171.5,174.5,176.4,177.4,178.4,179.4,180.4];
const odOrDotV = [0,1,6,6.2,5.2,4.2,4,2,4.5,3.5,3,4,3.5,2,4,3,5,6,6,6,4,3,5,4,6,6.5,6,5,3.5,2,4,5,6,6.3,6.5,5,3,4,5,2,3.5,5,6.5,7,7.2,7.2,7.2];
const odBlueDotT = [0.4,10.4,11.4,12.4,14.4,15.5,16.5,17.5,18.4,20.4,25.5,26.5,27.5,75.5,79.4,85.5,89.5,90.5,133.4,143.4,144.5,146.5,160.5,171.5,173.5,176.3,177.4,177.5,179.5,180.4];
const odBlueDotV = [0,0,0,1,11.3,6.3,4.5,8.1,1.0,0,0.5,0.5,1,4.4,2.7,2.1,78.4,12.4,3.7,1.0,1.5,3.8,3.8,10.6,3.0,15.4,43.2,77.3,55.7,60.1];
const odMarkT = [3.4,13.3,19.5,29.5,32.4,33.4,64.4,65.5,66.4,69.5,71.5,72.4,73.5,74.4,76.4,77.5,78.4,80.4,81.5,82.4,83.5,84.5,86.5,87.5,88.5,91.5,92.5,93.5,94.5,96.5,107.5,118.4,129.5,135.4,136.5,137.4,138.5,141.4,147.4,148.5,149.4,150.5,155.5,156.5,157.5,162.5,164.4,166.4,168.4,169.5,174.5,175.4];
const odMarkV = [0.5,12.4,5.9,2.7,4.0,7.4,1.1,1.3,6.0,2.3,4.1,9.0,15.0,11.2,16.3,10.3,11.6,1.0,2.7,8.9,12.1,3.0,5.3,2.7,12.0,29.3,17.9,8.4,22.7,1.0,1.0,1.9,4.8,4.0,11.6,19.0,6.4,2.5,22.2,34.7,25.9,44.9,6.7,3.8,8.0,7.8,18.7,4.2,1.3,0.7,12.3,39.5];

// Axis ticks
const xTickLabels = ['0','0.5','1','1.5','2','2.5','3'];
const xTickValues = [0,0.5,1,1.5,2,2.5,3];
const dqTicks = [0,2,4,6,8,10];
const lwpTicks = [0,0.5,1,1.5,2,2.5,3,3.5];
const reTicks = [0,5,10,15,20,25];
const ndTicks = [0,100,200,300,400,500];
const odTicks = [0,10,20,30,40,50,60,70,80];

// ---------- rendering ----------
const NS = 'http://www.w3.org/2000/svg';
const layer = document.getElementById('layer');
function mk(tag, attrs, parent) {
  const e = document.createElementNS(NS, tag);
  for (const k in attrs) e.setAttribute(k, attrs[k]);
  parent.appendChild(e);
  return e;
}
const X0 = 375, X1 = 3003;
function xh(h) { return X0 + h / 3 * (X1 - X0); }
function xm(m) { return xh(m / 60); }
const panels = [
  {key:'dq', top:296, bottom:1202, vmin:-0.5, vmax:11.5, ticks:dqTicks},
  {key:'lwp', top:1421, bottom:2328, vmin:-0.104, vmax:4, ticks:lwpTicks},
  {key:'re', top:2546, bottom:3453, vmin:-0.17, vmax:25, ticks:reTicks},
  {key:'nd', top:3671, bottom:4581, vmin:-1.65, vmax:500, ticks:ndTicks},
  {key:'od', top:4795, bottom:5705, vmin:-0.27, vmax:82.36, ticks:odTicks}
];
panels.forEach(p => { p.y = v => p.bottom - (v - p.vmin) / (p.vmax - p.vmin) * (p.bottom - p.top); });

const defs = mk('defs', {}, layer);
panels.forEach(p => {
  const cp = mk('clipPath', {id:'clip-' + p.key}, defs);
  mk('rect', {x:X0, y:p.top, width:X1 - X0, height:p.bottom - p.top + 10}, cp);
});

function segments(t, hi, lo) {
  const segs = []; let cur = [];
  for (let i = 0; i < t.length; i++) {
    if (t[i] === null || hi[i] === null || hi[i] === undefined || lo[i] === null || lo[i] === undefined) {
      if (cur.length) segs.push(cur); cur = [];
    } else cur.push(i);
  }
  if (cur.length) segs.push(cur);
  return segs;
}
function drawBand(g, p, t, hi, lo, fill, op, pad, off, name) {
  segments(t, hi, lo).forEach(seg => {
    const pts = [];
    const first = seg[0], last = seg[seg.length - 1];
    pts.push([xm(t[first] + off - pad), p.y(hi[first])]);
    seg.forEach(i => pts.push([xm(t[i] + off), p.y(hi[i])]));
    pts.push([xm(t[last] + off + pad), p.y(hi[last])]);
    pts.push([xm(t[last] + off + pad), p.y(lo[last])]);
    for (let k = seg.length - 1; k >= 0; k--) pts.push([xm(t[seg[k]] + off), p.y(lo[seg[k]])]);
    pts.push([xm(t[first] + off - pad), p.y(lo[first])]);
    const poly = mk('polygon', {points: pts.map(q => q[0].toFixed(1) + ',' + q[1].toFixed(1)).join(' '), fill: fill, 'fill-opacity': op}, g);
    
    
  });
}
function drawDots(g, p, t, v, off, rx, ry, color, name) {
  for (let i = 0; i < t.length; i++) {
    const c = mk('ellipse', {cx: xm(t[i] + off), cy: p.y(v[i]), rx: rx, ry: ry, fill: color}, g);
    
    
  }
}
function drawMarks(g, p, t, v, color, s, sw, name) {
  for (let i = 0; i < t.length; i++) {
    const x = xm(t[i]), y = p.y(v[i]);
    const m = mk('path', {d: `M${x-s},${y-s} L${x+s},${y+s} M${x+s},${y-s} L${x-s},${y+s}`, stroke: color, 'stroke-width': sw, fill: 'none'}, g);
    
    
  }
}
function drawLine(g, p, t, v, attrs, name) {
  let d = ''; let pen = false;
  for (let i = 0; i < t.length; i++) {
    if (t[i] === null || v[i] === null) { pen = false; continue; }
    d += (pen ? 'L' : 'M') + xm(t[i]).toFixed(1) + ',' + p.y(v[i]).toFixed(1);
    pen = true;
  }
  const a = Object.assign({d: d, fill: 'none'}, attrs);
  const l = mk('path', a, g);
  
  
}

// Axes for each panel
panels.forEach(p => {
  const ag = mk('g', {}, layer);
  
  
  p.ticks.forEach(v => {
    const ty = p.y(v);
    const tk = mk('line', {x1: X0, y1: ty, x2: X0 + 30, y2: ty, stroke: '#0072bd', 'stroke-width': 3}, ag);
    
    
    const lb = mk('text', {x: 347, y: ty + 13, 'text-anchor': 'end', 'font-size': 38, fill: '#0072bd'}, ag);
    
    
    lb.textContent = String(v);
  });
  xTickValues.forEach((h, i) => {
    if (h > 0 && h < 3) {
      const tk = mk('line', {x1: xh(h), y1: p.bottom, x2: xh(h), y2: p.bottom - 30, stroke: '#262626', 'stroke-width': 2.5}, ag);
      
      
    }
    const lb = mk('text', {x: xh(h), y: p.bottom + 65, 'text-anchor': 'middle', 'font-size': 38, fill: '#262626'}, ag);
    
    
    lb.textContent = xTickLabels[i];
  });
  p.axisGroup = ag;
});

// Panel 1 drawing
(function () {
  const p = panels[0];
  const g = mk('g', {}, layer);
  
  
  const OFF = 0.4;
  const put = (arr, val, color, name) => drawDots(g, p, arr, arr.map(() => val), OFF, 4.5, 5, color, name);
  put(d98Flag3, 3, '#ff8c00', 'd98-flag-3-point');
  put(d98Flag10, 10, '#ff8c00', 'd98-flag-10-point');
  put(d98Flag4, 4, '#ff8c00', 'd98-flag-4-point');
  put(zlwpFlag10, 10.2, '#0000ff', 'zlwp-flag-10-point');
  put(zlwpFlag8, 8.2, '#0000ff', 'zlwp-flag-8-point');
  put(zlwpFlag5, 5.2, '#0000ff', 'zlwp-flag-5-point');
  put(zlwpFlag4, 4.2, '#0000ff', 'zlwp-flag-4-point');
  put(zlwpFlag1, 1.2, '#0000ff', 'zlwp-flag-1-point');
  put(zlwpFlag0, 0.2, '#0000ff', 'zlwp-flag-0-point');
})();

// Panel 2 drawing
(function () {
  const p = panels[1];
  const g = mk('g', {'clip-path': 'url(#clip-lwp)'}, layer);
  
  
  drawBand(g, p, lwpBandT, lwpBandHi, lwpBandLo, '#c0a0c0', 1, 0, 0.4, 'mwr-lwp-uncertainty-band');
  drawLine(g, p, lwpT, lwpV, {stroke: '#ff8c00', 'stroke-width': 9, 'stroke-linejoin': 'round'}, 'd98-lwp-line');
  drawLine(g, p, lwpT, lwpV, {stroke: '#0000ff', 'stroke-width': 9, 'stroke-dasharray': '70 22', 'stroke-linejoin': 'round'}, 'zlwp-lwp-line');
  drawMarks(g, p, lwpMarkT, lwpMarkV, '#0000ff', 10, 7, 'zlwp-lwp-marker');
})();

// Panels 3-5
function drawRetrieval(p, bHi, bLo, oHi, oLo, orT, orV, blT, blV, mkT, mkV) {
  const g = mk('g', {'clip-path': 'url(#clip-' + p.key + ')'}, layer);
  
  
  drawBand(g, p, bandT, oHi, oLo, '#ffe6c8', 1, 0.45, 0.4, p.key + '-d98-range-band');
  drawBand(g, p, bandT, bHi, bLo, '#0000ff', 0.2, 0.45, 0.4, p.key + '-zlwp-range-band');
  drawDots(g, p, orT, orV, 0, 5, 5, '#ff8000', p.key + '-d98-point');
  drawDots(g, p, blT, blV, 0, 5, 5, '#0000ff', p.key + '-zlwp-point');
  drawMarks(g, p, mkT, mkV, '#0000ff', 11, 8, p.key + '-zlwp-marker');
}
drawRetrieval(panels[2], reBlueHi, reBlueLo, reOrHi, reOrLo, reOrDotT, reOrDotV, reBlueDotT, reBlueDotV, reMarkT, reMarkV);
drawRetrieval(panels[3], ndBlueHi, ndBlueLo, ndOrHi, ndOrLo, ndOrDotT, ndOrDotV, ndBlueDotT, ndBlueDotV, ndMarkT, ndMarkV);
drawRetrieval(panels[4], odBlueHi, odBlueLo, odOrHi, odOrLo, odOrDotT, odOrDotV, odBlueDotT, odBlueDotV, odMarkT, odMarkV);

// Axis lines on top
panels.forEach(p => {
  const ag = p.axisGroup;
  layer.appendChild(ag);
  const la = mk('line', {x1: X0, y1: p.top, x2: X0, y2: p.bottom, stroke: '#0072bd', 'stroke-width': 3}, ag);
  
  
  const ra = mk('line', {x1: X1, y1: p.top, x2: X1, y2: p.bottom, stroke: '#6fb1e0', 'stroke-width': 2.5}, ag);
  
  
  const ba = mk('line', {x1: X0, y1: p.bottom, x2: X1, y2: p.bottom, stroke: '#262626', 'stroke-width': 3}, ag);
  
  
});
</script>
</body></html>
